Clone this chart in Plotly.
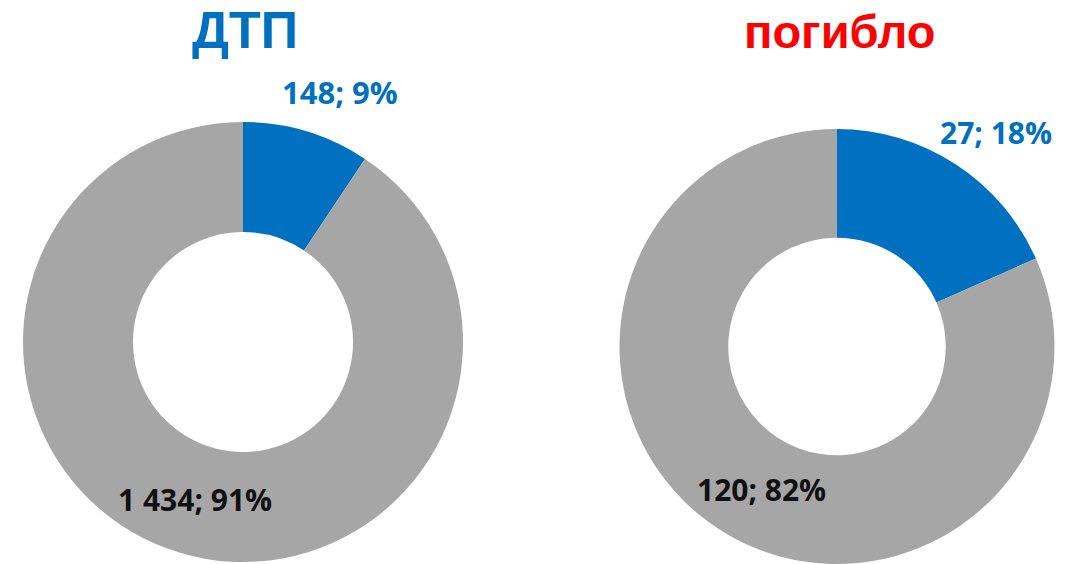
import plotly.graph_objects as go

# ---- data ----
chart_titles = ["ДТП", "погибло"]
title_colors = ["#0070C0", "#FF0000"]
categories = ["Категория 1", "Прочие"]
dtp_values = [148, 1434]
killed_values = [27, 120]
slice_colors = ["#0070C0", "#A6A6A6"]
label_colors = ["#0070C0", "#111111"]

W, H = 1073, 564

def fmt_num(v):
    return f"{v:,}".replace(",", " ")

def make_labels(values):
    total = sum(values)
    return [f"{fmt_num(v)}; {round(100 * v / total)}%" for v in values]

fig = go.Figure()

# pie domains (pixel boxes -> paper)
domains = [
    dict(x=[23 / W, 463 / W], y=[1 - 562 / H, 1 - 122 / H]),
    dict(x=[617 / W, 1057 / W], y=[0.0, 1 - 129 / H]),
]
series = [dtp_values, killed_values]

for vals, dom in zip(series, domains):
    fig.add_trace(go.Pie(
        labels=categories,
        values=vals,
        hole=0.5,
        sort=False,
        direction="clockwise",
        rotation=0,
        marker=dict(colors=slice_colors, line=dict(width=0)),
        textinfo="none",
        hoverinfo="skip",
        showlegend=False,
        domain=dom,
    ))

# titles (Liberation Sans: box centre = baseline - 0.3465*size)
title_specs = [(245, 48, 52), (839, 48, 47)]
for t, c, (px, base, fs) in zip(chart_titles, title_colors, title_specs):
    cy = base - 0.3465 * fs
    fig.add_annotation(
        x=px / W, y=1 - cy / H, xref="paper", yref="paper",
        text=f"<b>{t}</b>", showarrow=False,
        xanchor="center", yanchor="middle",
        font=dict(family="Liberation Sans", size=fs, color=c),
    )

# data labels
label_pos = [[(340, 92), (195, 500)], [(996, 132), (761, 489)]]
label_sizes = [[31, 30], [30, 30]]
for vals, positions, sizes in zip(series, label_pos, label_sizes):
    texts = make_labels(vals)
    for txt, col, (px, py), fs in zip(texts, label_colors, positions, sizes):
        fig.add_annotation(
            x=px / W, y=1 - py / H, xref="paper", yref="paper",
            text=f"<b>{txt}</b>", showarrow=False,
            xanchor="center", yanchor="middle",
            font=dict(family="Open Sans", size=fs, color=col),
        )

fig.update_layout(
    width=W, height=H,
    margin=dict(l=0, r=0, t=0, b=0),
    paper_bgcolor="white",
    plot_bgcolor="white",
)

fig.write_html(
    "out.html",
    config={"displayModeBar": False},
    post_script="document.body.style.margin='0';",
)
